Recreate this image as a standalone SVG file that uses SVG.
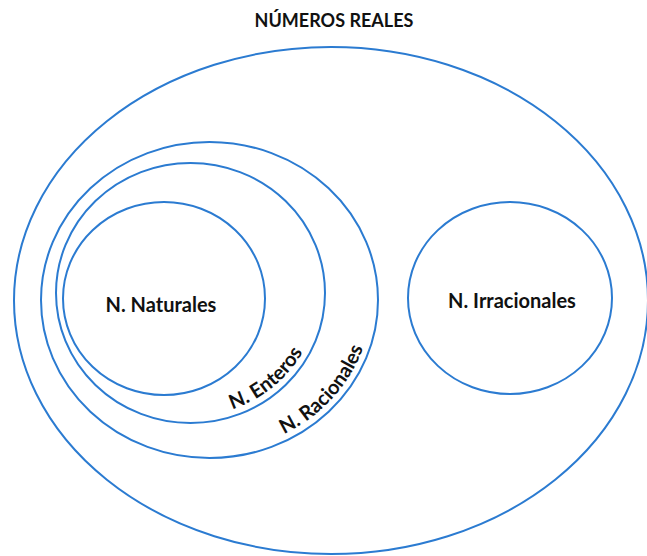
<svg xmlns="http://www.w3.org/2000/svg" width="647" height="556" viewBox="0 0 647 556">
<style>
.set{fill:none;stroke:#2B7BD1;stroke-width:2}
.lbl{font-family:Lato,"Open Sans","Liberation Sans",sans-serif;font-weight:bold;fill:#111;font-size:20px}
.ttl{font-size:18px}
</style>
<defs>
<path id="pEnt" d="M 190.5 416 A 128 123 0 0 0 318.5 293"/>
<path id="pRac" d="M 209.5 451 A 162 151 0 0 0 371.5 300"/>
</defs>
<rect width="647" height="556" fill="#fff"/>
<text class="lbl ttl" x="334" y="27" text-anchor="middle">NÚMEROS REALES</text>
<g id="reales"><ellipse class="set" cx="331" cy="300.5" rx="317" ry="253.5"/></g>
<g id="racionales"><ellipse class="set" cx="209.5" cy="300" rx="168.5" ry="158"/>
<text class="lbl"><textPath href="#pRac" startOffset="137" text-anchor="middle">N. Racionales</textPath></text></g>
<g id="enteros"><ellipse class="set" cx="190.5" cy="293" rx="134.5" ry="130"/>
<text class="lbl"><textPath href="#pEnt" startOffset="89" text-anchor="middle">N. Enteros</textPath></text></g>
<g id="naturales"><ellipse class="set" cx="164" cy="298.5" rx="101" ry="96.5"/>
<text class="lbl" x="161" y="312" text-anchor="middle">N. Naturales</text></g>
<g id="irracionales"><ellipse class="set" cx="510" cy="298" rx="102" ry="96"/>
<text class="lbl" x="512" y="308" text-anchor="middle">N. Irracionales</text></g>
<g id="connectors"/>
</svg>
